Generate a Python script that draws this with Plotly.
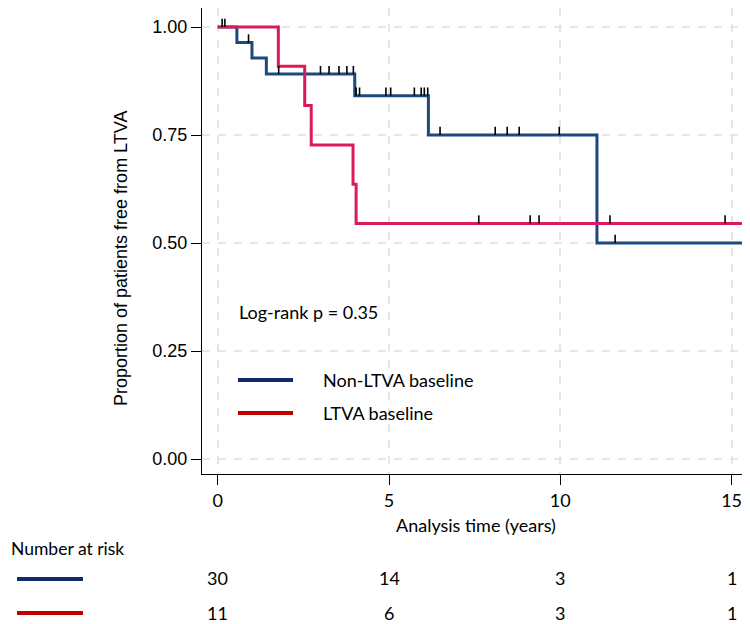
import plotly.graph_objects as go

# Kaplan-Meier steps
blue_t = [0, 0.56, 1.0, 1.42, 4.0, 6.15, 11.07, 15.6]
blue_s = [1.0, 0.964, 0.928, 0.891, 0.841, 0.75, 0.5, 0.5]
blue_cens = [0.13, 0.21, 0.9, 1.78, 3.0, 3.25, 3.54, 3.77, 3.96, 4.04, 4.14,
             4.91, 5.05, 5.74, 5.94, 6.03, 6.13, 6.49, 8.1, 8.45, 8.8, 9.97, 11.6]

red_t = [0, 1.77, 2.54, 2.73, 3.95, 4.04, 15.6]
red_s = [1.0, 0.909, 0.818, 0.727, 0.636, 0.545, 0.545]
red_cens = [7.62, 9.12, 9.38, 11.45, 14.81]

risk_times = [0, 5, 10, 15]
risk_blue = [30, 14, 3, 1]
risk_red = [11, 6, 3, 1]

BLUE = "#1c4a7c"
PINK = "#db1a5c"
LEG_BLUE = "#13296b"
LEG_RED = "#c00000"

# page has an 8px body margin, so lay the figure out 8px smaller
OFF = 8
W, H = 750 - OFF, 624 - OFF
PLOT_L, PLOT_R, PLOT_T, PLOT_B = 202, 750, OFF, 474  # in screen pixels
L, T = PLOT_L - OFF, PLOT_T - OFF
B = H - (PLOT_B - OFF)
PW, PH = PLOT_R - PLOT_L, PLOT_B - PLOT_T


def px(x):
    return (x - PLOT_L) / PW


def py(y):
    return (PLOT_B - y) / PH


def surv_at(times, surv, t):
    s = surv[0]
    for ti, si in zip(times, surv):
        if ti <= t:
            s = si
    return s


def cens_xy(times, surv, cens, h=0.019):
    xs, ys = [], []
    for c in cens:
        s = surv_at(times, surv, c)
        xs += [c, c, None]
        ys += [s, s + h, None]
    return xs, ys


fig = go.Figure()
fig.add_trace(go.Scatter(x=blue_t, y=blue_s, mode="lines", line_shape="hv",
                         line=dict(color=BLUE, width=3), hoverinfo="skip"))
fig.add_trace(go.Scatter(x=red_t, y=red_s, mode="lines", line_shape="hv",
                         line=dict(color=PINK, width=3), hoverinfo="skip"))
for tt, ss, cc in [(blue_t, blue_s, blue_cens), (red_t, red_s, red_cens)]:
    cx, cy = cens_xy(tt, ss, cc)
    fig.add_trace(go.Scatter(x=cx, y=cy, mode="lines",
                             line=dict(color="black", width=1.6), hoverinfo="skip"))

y0 = 459
y1 = 27
ppu = y0 - y1
ymin = -(PLOT_B - y0) / ppu
ymax = (y0 - PLOT_T) / ppu
x0p, x5p = 217.7, 389.0
xppu = (x5p - x0p) / 5
xmin = (PLOT_L - x0p) / xppu
xmax = (PLOT_R - x0p) / xppu

sans = "Liberation Sans, Arial, sans-serif"
cal = "Lato, Open Sans, sans-serif"

fig.update_layout(
    width=W, height=H, margin=dict(l=L, r=0, t=T, b=B, pad=0),
    paper_bgcolor="white", plot_bgcolor="white", showlegend=False,
    xaxis=dict(range=[xmin, xmax], tickvals=risk_times, showline=True,
               linecolor="black", linewidth=1.3, ticks="outside", ticklen=10,
               tickcolor="black", tickwidth=1.3, zeroline=False,
               showgrid=True, gridcolor="#e6e6e6", gridwidth=1.5,
               griddash="8px,8px",
               tickfont=dict(family=cal, size=18, color="black")),
    yaxis=dict(range=[ymin, ymax], tickvals=[0, 0.25, 0.5, 0.75, 1.0],
               tickformat=".2f", showline=True, linecolor="black",
               linewidth=1.3, ticks="outside", ticklen=10, tickcolor="black",
               tickwidth=1.3, zeroline=False, showgrid=True,
               gridcolor="#e6e6e6", gridwidth=1.5, griddash="8px,8px",
               tickfont=dict(family=sans, size=18, color="black")),
)


def note(text, x, y, xref="paper", xanchor="center", font=cal, size=18, angle=0):
    return dict(text=text, xref=xref, yref="paper", x=x, y=y, xanchor=xanchor,
                yanchor="middle", textangle=angle, showarrow=False,
                font=dict(family=font, size=size, color="black"))


ann = [
    note("Proportion of patients free from LTVA", px(121), py(258), font=sans,
         size=18, angle=-90),
    note("Analysis time (years)", px(476), py(525)),
    note("Log-rank p = 0.35", px(237), py(312), xanchor="left"),
    note("Non-LTVA baseline", px(321), py(380), xanchor="left"),
    note("LTVA baseline", px(321), py(413), xanchor="left"),
    note("Number at risk", px(OFF + 1), py(548), xanchor="left", size=17.5),
]
for t, nb, nr in zip(risk_times, risk_blue, risk_red):
    ann.append(note(str(nb), t, py(578), xref="x"))
    ann.append(note(str(nr), t, py(613), xref="x"))
fig.update_layout(annotations=ann)

shapes = []
for yy, col in [(380, LEG_BLUE), (413, LEG_RED)]:
    shapes.append(dict(type="line", xref="paper", yref="paper", x0=px(238), x1=px(293),
                       y0=py(yy), y1=py(yy), line=dict(color=col, width=4)))
for yy, col in [(579, LEG_BLUE), (613, LEG_RED)]:
    shapes.append(dict(type="line", xref="paper", yref="paper", x0=px(17), x1=px(83),
                       y0=py(yy), y1=py(yy), line=dict(color=col, width=4)))
fig.update_layout(shapes=shapes)

fig.write_html("out.html")
